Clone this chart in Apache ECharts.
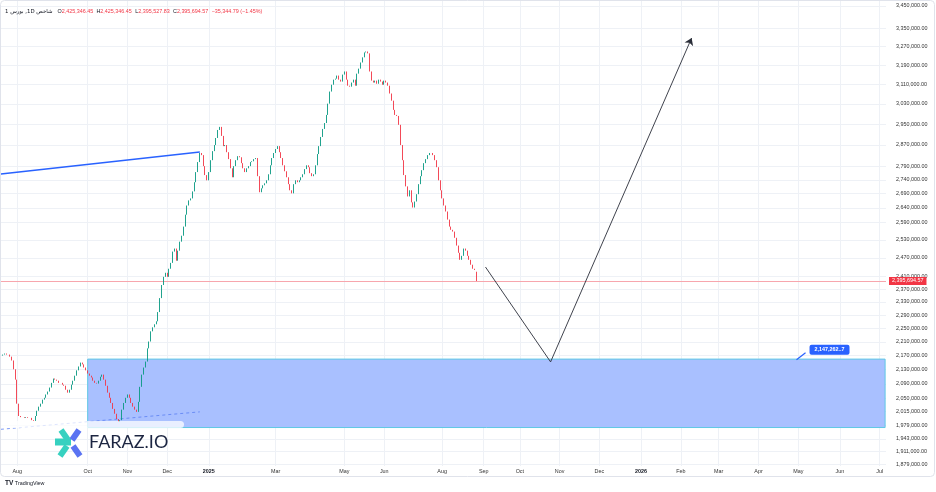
<!DOCTYPE html>
<html><head><meta charset="utf-8">
<script src="https://cdn.jsdelivr.net/npm/echarts@6/dist/echarts.min.js"></script>
<style>html,body{margin:0;padding:0;background:#fff}#c{width:936px;height:492px}</style>
</head><body><div id="c"></div>
<script>
// ---- data ----
const monthNames = ['Jul','Aug','Sep','Oct','Nov','Dec','2025','Feb','Mar','Apr','May','Jun','Jul','Aug','Sep','Oct','Nov','Dec','2026','Feb','Mar','Apr','May','Jun','Jul'];
const monthSlots = [9,20,19,22,22,23,19,18,19,19,22,16,16,23,20,22,22,23,22,21,22,22,23,22,4];
const monthShown = [0,1,0,1,1,1,1,0,1,0,1,1,0,1,1,1,1,1,1,1,1,1,1,1,1];
// daily closes, thousands
const closes = [
2170,2173,2176,2173,2173,2167,2156,2131,2102,2036,
2003,2000,2000,1998,2000,1998,1998,1992,1990,2003,
2017,2028,2036,2047,2052,2061,2069,2080,2093,2105,
2102,2099,2093,2093,2088,2085,2074,2066,2074,2088,
2099,2113,2128,2139,2150,2145,2136,2128,2119,2113,
2108,2099,2093,2091,2099,2110,2116,2102,2085,2066,
2052,2038,2022,2009,1995,1987,1992,2020,2038,2052,
2061,2052,2038,2028,2020,2014,2041,2082,2116,2136,
2153,2191,2211,2241,2253,2262,2271,2299,2342,2383,
2409,2422,2409,2435,2454,2491,2501,2461,2494,2524,
2544,2575,2616,2648,2666,2673,2698,2731,2768,2805,
2839,2831,2790,2757,2738,2768,2812,2846,2869,2896,
2927,2939,2904,2865,2869,2842,2816,2782,2749,2790,
2812,2827,2823,2801,2782,2768,2782,2790,2805,2808,
2816,2820,2753,2695,2709,2720,2727,2738,2760,2793,
2820,2839,2854,2865,2842,2820,2793,2771,2749,2724,
2702,2691,2724,2738,2731,2738,2749,2760,2779,2793,
2786,2764,2753,2760,2793,2835,2865,2900,2931,2954,
2986,3031,3080,3108,3129,3133,3146,3129,3121,3150,
3163,3129,3104,3100,3117,3129,3104,3154,3175,3201,
3223,3244,3248,3240,3163,3125,3117,3125,3112,3129,
3121,3108,3125,3117,3104,3072,3043,3006,2986,2982,
2947,2869,2812,2757,2716,2680,2702,2659,2641,2662,
2688,2724,2753,2775,2801,2816,2831,2839,2839,2831,
2812,2786,2738,2702,2673,2648,2627,2599,2575,2564,
2558,2537,2511,2487,2464,2477,2501,2494,2477,2464,
2448,2435,2431.04,2395.69];
const firstOpen = 2168;
const lastBar = {open: 2425346.45, high: 2425346.45, low: 2395527.83, close: 2395694.57, change: -35344.79, pct: -1.45};
const yTicks = [3450000,3350000,3270000,3190000,3110000,3030000,2950000,2870000,2790000,2740000,2690000,2640000,2590000,2530000,2470000,2410000,2370000,2330000,2290000,2250000,2210000,2170000,2130000,2090000,2050000,2015000,1979000,1943000,1911000,1879000];
const yMin = 1874500, yMax = 3477600;
const zoneTop = 2160000, zoneBottom = 1972600, zoneStartSlot = 48;
const zoneLabel = '2,147,262..7';
const trendBlue = [[0, 2761000], [110, 2843000]];
const trendDashed = [[0, 1968000], [110, 2014000]];
const arrowDown = [[268, 2440500], [304, 2152000]];
const arrowUp = [[304, 2152000], [382, 3306600]];
const zoneTail = [[440, 2158000], [445, 2178000]];
const titleParts = ['1 ', 'بورس', ' ,1D ', 'شاخص'];

// ---- build ----
const K = 1000;
const fmt = v => v.toLocaleString('en-US', {minimumFractionDigits: 2, maximumFractionDigits: 2});
const cats = [], labelAt = {};
monthNames.forEach((m, mi) => {
  for (let k = 0; k < monthSlots[mi]; k++) {
    if (k === 0 && monthShown[mi]) labelAt[cats.length] = m;
    cats.push(mi + ':' + k);
  }
});
const labelSlots = Object.keys(labelAt).map(Number);
const candles = closes.map((c, i) => {
  let o = (i === 0 ? firstOpen : closes[i - 1]) * K, cl = c * K;
  let lo = Math.min(o, cl), hi = Math.max(o, cl);
  if (i === closes.length - 1) { o = lastBar.open; cl = lastBar.close; lo = lastBar.low; hi = lastBar.high; }
  return [o, cl, lo, hi];
});

const chart = echarts.init(document.getElementById('c'));
const FS = 5.4;
const FF = 'Liberation Sans, Arial, sans-serif';
const option = {
  animation: false,
  backgroundColor: '#ffffff',
  grid: {left: 0, right: 50, top: 0, bottom: 26, containLabel: false},
  xAxis: {
    type: 'category', data: cats, boundaryGap: true,
    axisLine: {show: false}, axisTick: {show: false}, splitLine: {show: false},
    axisLabel: {
      interval: (idx) => labelAt[idx] !== undefined,
      formatter: (v, idx) => { const t = labelAt[idx]; if (t === undefined) return ''; return /^\d{4}$/.test(t) ? '{b|' + t + '}' : t; },
      fontSize: FS, color: '#333', margin: 3, fontFamily: FF,
      rich: {b: {fontWeight: 'bold', fontSize: FS, color: '#131722'}}
    }
  },
  yAxis: {
    type: 'log', logBase: 10, min: yMin, max: yMax, position: 'right',
    axisLine: {show: false}, axisTick: {show: false}, splitLine: {show: false},
    axisLabel: {customValues: yTicks, formatter: v => fmt(Math.round(v)), fontSize: FS, color: '#333', margin: 10, fontFamily: FF}
  },
  series: [
    {
      type: 'line', data: [], z: 0, silent: true,
      markLine: {
        silent: true, z: 0, symbol: ['none', 'none'], label: {show: false}, animation: false,
        lineStyle: {color: '#eef1f6', width: 1, type: 'solid'},
        data: yTicks.map(v => ({yAxis: v})).concat(labelSlots.map(i => ({xAxis: cats[i]})))
      }
    },
    {
      type: 'line', data: [], z: 1, silent: true,
      markArea: {
        silent: true, z: 1,
        itemStyle: {color: '#a9c0ff', borderColor: '#5ec8e5', borderWidth: 1},
        data: [[{xAxis: cats[zoneStartSlot], yAxis: zoneTop}, {xAxis: cats[cats.length - 1], yAxis: zoneBottom}]]
      }
    },
    {
      type: 'lines', coordinateSystem: 'cartesian2d', z: 3, silent: true,
      lineStyle: {color: '#2962ff', width: 1.5, opacity: 1},
      data: [{coords: trendBlue}]
    },
    {
      type: 'lines', coordinateSystem: 'cartesian2d', z: 3, silent: true,
      lineStyle: {color: '#5b7ff2', width: 1, type: [3, 3], opacity: 0.8},
      data: [{coords: trendDashed}]
    },
    {
      type: 'lines', coordinateSystem: 'cartesian2d', z: 5, silent: true,
      symbol: ['none', 'none'],
      lineStyle: {color: '#2a2e39', width: 0.9, opacity: 1},
      data: [{coords: arrowDown}]
    },
    {
      type: 'lines', coordinateSystem: 'cartesian2d', z: 5, silent: true,
      symbol: ['none', 'arrow'], symbolSize: [5, 7],
      itemStyle: {color: '#2a2e39'},
      lineStyle: {color: '#2a2e39', width: 0.9, opacity: 1},
      data: [{coords: arrowUp}]
    },
    {
      type: 'lines', coordinateSystem: 'cartesian2d', z: 6, silent: true,
      lineStyle: {color: '#2962ff', width: 1.2, opacity: 1},
      data: [{coords: zoneTail}]
    },
    {
      type: 'candlestick', data: candles, z: 4, barWidth: 1.2,
      itemStyle: {color: '#089981', color0: '#f23645', borderColor: '#089981', borderColor0: '#f23645', borderWidth: 0.9},
      markLine: {
        silent: true, z: 2, symbol: ['none', 'none'], animation: false,
        data: [{
          yAxis: lastBar.close,
          lineStyle: {color: '#f7a6ad', width: 1, type: 'solid'},
          label: {show: true, position: 'end', formatter: fmt(lastBar.close), backgroundColor: '#f23645', color: '#fff', fontSize: FS, padding: [2, 3, 1, 3], distance: 3, fontFamily: FF}
        }]
      },
      markPoint: {
        silent: true, animation: false,
        data: [{
          coord: [cats[zoneTail[1][0]], zoneTail[1][1]], symbol: 'circle', symbolSize: 0,
          label: {show: true, position: 'right', offset: [-1, -3], formatter: zoneLabel, backgroundColor: '#2962ff', color: '#fff', fontWeight: 'bold', fontSize: FS, padding: [3, 5, 2, 5], borderRadius: 2, fontFamily: FF}
        }]
      }
    }
  ],
  graphic: [
    {type: 'rect', z: 100, shape: {x: 0.5, y: 0.5, width: 934, height: 476, r: 4}, style: {fill: 'none', stroke: '#e0e3eb', lineWidth: 1}, silent: true},
    {type: 'rect', z: 50, shape: {x: 0, y: 421, width: 184, height: 7, r: [0, 6, 6, 0]}, style: {fill: 'rgba(255,255,255,0.75)'}, silent: true},
    {type: 'line', z: 51, shape: {x1: 55, y1: 442, x2: 71, y2: 442}, style: {stroke: '#36d1c0', lineWidth: 7}},
    {type: 'line', z: 51, shape: {x1: 61, y1: 430, x2: 68, y2: 440}, style: {stroke: '#36d1c0', lineWidth: 6}},
    {type: 'line', z: 51, shape: {x1: 60, y1: 456, x2: 67, y2: 446}, style: {stroke: '#36d1c0', lineWidth: 6}},
    {type: 'line', z: 51, shape: {x1: 79, y1: 430, x2: 72, y2: 440}, style: {stroke: '#5a73f2', lineWidth: 6}},
    {type: 'line', z: 51, shape: {x1: 80, y1: 456, x2: 73, y2: 446}, style: {stroke: '#5a73f2', lineWidth: 6}},
    {type: 'text', z: 51, left: 89, top: 433, style: {text: 'FARAZ.IO', fill: '#1c2541', font: '400 18px Lato, sans-serif'}},
    {type: 'text', z: 60, left: 5, top: 6, style: {
      text: titleParts.map(p => '{t|' + p + '}').join('') + '{t| } {k|O}{v|' + fmt(lastBar.open) + '} {k|H}{v|' + fmt(lastBar.high) + '} {k|L}{v|' + fmt(lastBar.low) + '} {k|C}{v|' + fmt(lastBar.close) + '} {v|−' + fmt(-lastBar.change) + ' (−' + (-lastBar.pct).toFixed(2) + '%)}',
      rich: {
        t: {fill: '#131722', fontSize: FS, fontFamily: 'DejaVu Sans, sans-serif'},
        k: {fill: '#131722', fontSize: FS, fontFamily: FF},
        v: {fill: '#f23645', fontSize: FS, fontFamily: FF}
      }
    }},
    {type: 'text', z: 60, left: 5, top: 480, style: {text: '{b|TV} TradingView', rich: {b: {fontWeight: 'bold', fontSize: 6.5, fill: '#131722'}}, fill: '#131722', fontSize: FS, fontFamily: FF}}
  ]
};
chart.setOption(option);
</script>
</body></html>
